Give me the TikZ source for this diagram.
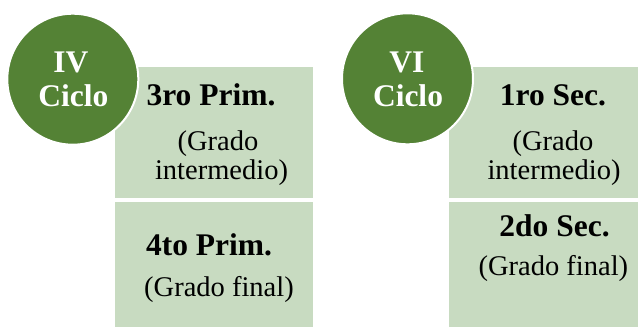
\documentclass[tikz,border=0pt]{standalone}
\usepackage{fontspec}
\setmainfont{Liberation Serif}
\definecolor{dkgreen}{RGB}{84,130,53}
\definecolor{ltgreen}{RGB}{200,219,193}
\tikzset{
  gradebox/.style={fill=ltgreen, draw=none},
  cyclecircle/.style={circle, fill=dkgreen, draw=white, line width=2pt, minimum size=131pt, inner sep=0pt},
  cyctext/.style={anchor=base, text=white, font=\fontsize{31.5}{31.5}\selectfont\bfseries, inner sep=0pt},
  gradetitle/.style={anchor=base, font=\fontsize{31.5}{31.5}\selectfont\bfseries, inner sep=0pt},
  gradenote/.style={anchor=base, font=\fontsize{28.5}{28.5}\selectfont, inner sep=0pt}
}
\begin{document}
\begin{tikzpicture}[x=1pt,y=-1pt]
\useasboundingbox (0,0) rectangle (638,327);
% left panel
\fill[gradebox] (114.7,66.7) rectangle (312.5,197.7) coordinate (b1);
\fill[gradebox] (114.7,201.7) rectangle (312.5,327) coordinate (b2);
\node[cyclecircle] (c1) at (72.8,79.2) {};
\node[cyctext] (c1a) at (71,72.7) {IV};
\node[cyctext] (c1b) at (73.3,106) {Ciclo};
\node[gradetitle] (t1) at (211,105.7) {3ro Prim.};
\node[gradenote] (n1a) at (218,150.5) {(Grado};
\node[gradenote] (n1b) at (221.5,179) {intermedio)};
\node[gradetitle] (t2) at (209,255) {4to Prim.};
\node[gradenote] (n2) at (219,296.7) {(Grado final)};
% right panel
\fill[gradebox] (449.3,66.7) rectangle (638,197.7) coordinate (b3);
\fill[gradebox] (449.3,201.7) rectangle (638,327) coordinate (b4);
\node[cyclecircle] (c2) at (407.5,78.8) {};
\node[cyctext] (c2a) at (407,72.7) {VI};
\node[cyctext] (c2b) at (408,106) {Ciclo};
\node[gradetitle] (t3) at (553,105.7) {1ro Sec.};
\node[gradenote] (n3a) at (553,150) {(Grado};
\node[gradenote] (n3b) at (554,179) {intermedio)};
\node[gradetitle] (t4) at (554.5,236.7) {2do Sec.};
\node[gradenote] (n4) at (553.4,275) {(Grado final)};
\end{tikzpicture}
\end{document}
